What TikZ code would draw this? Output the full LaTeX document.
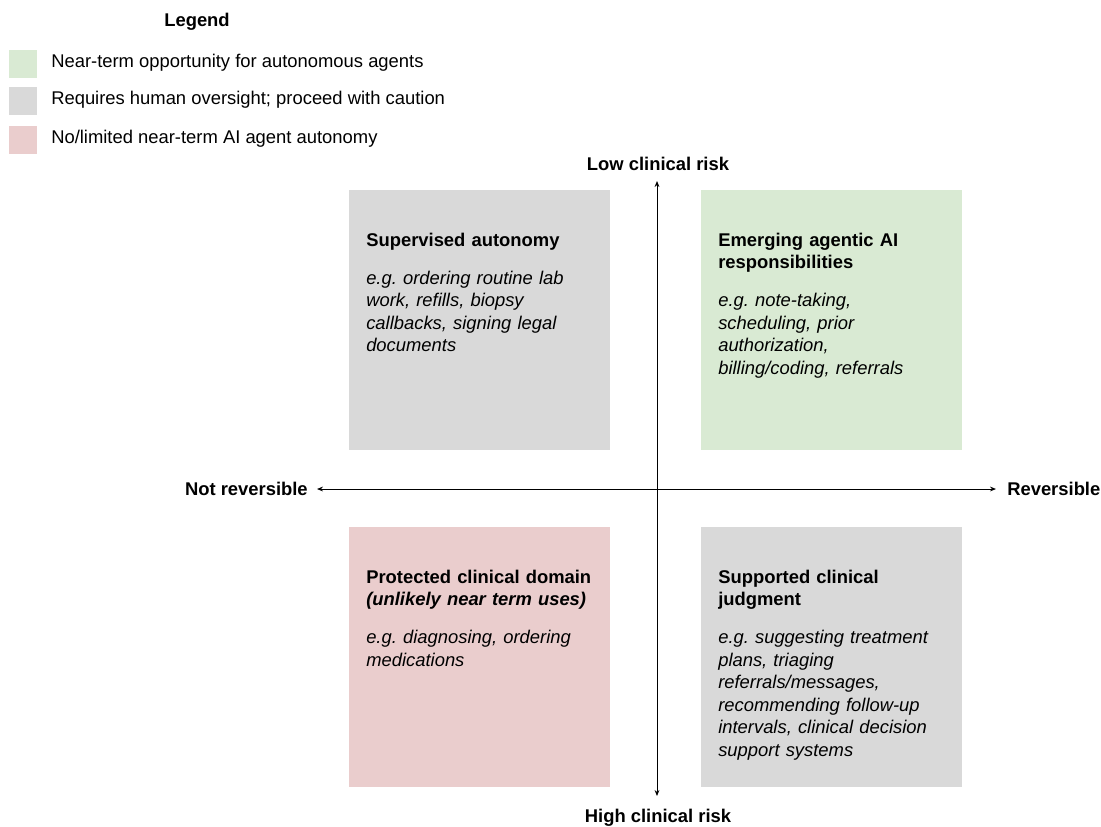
\documentclass[tikz,border=0pt]{standalone}
\usepackage{fontspec}
\setmainfont{Liberation Sans}
\usetikzlibrary{arrows.meta}
\definecolor{oppgreen}{HTML}{D9EAD3}
\definecolor{caregray}{HTML}{D9D9D9}
\definecolor{stopred}{HTML}{EACDCD}
\newcommand{\chartfont}{\fontsize{13.8}{16.9}\selectfont}
\frenchspacing

\begin{document}
\begin{tikzpicture}[x=0.75pt, y=-0.75pt,
    quad/.style={draw=none, anchor=north west, inner sep=0,
      minimum width=195.75pt, minimum height=195pt},
    quadtext/.style={anchor=north west, inner sep=0, align=left,
      text width=180pt, font=\chartfont},
    swatch/.style={draw=none, anchor=north west, inner sep=0, minimum size=21pt},
    label/.style={inner sep=0, font=\chartfont},
    axis/.style={line width=0.75pt, {Stealth[length=4.5pt,width=3.6pt]}-{Stealth[length=4.5pt,width=3.6pt]}}]
  \useasboundingbox (0,0) rectangle (1101,826);
  %%%%% LEGEND %%%%%
  \node[label, anchor=base, font=\chartfont\bfseries] (legend) at (197,26.6) {Legend};
  \node[swatch, fill=oppgreen] (lgreen) at (9,50) {};
  \node[swatch, fill=caregray] (lgray) at (9,87) {};
  \node[swatch, fill=stopred] (lred) at (9,126) {};
  \node[label, anchor=base west] (lgreentext) at (51,67.6) {Near-term opportunity for autonomous agents};
  \node[label, anchor=base west] (lgraytext) at (51,104.6) {Requires human oversight; proceed with caution};
  \node[label, anchor=base west] (lredtext) at (51,143.6) {No/limited near-term AI agent autonomy};

  %%%%% QUADRANTS %%%%%
  \node[quad, fill=caregray] (tl) at (349,190) {};
  \node[quad, fill=oppgreen] (tr) at (701,190) {};
  \node[quad, fill=stopred] (bl) at (349,527) {};
  \node[quad, fill=caregray] (br) at (701,527) {};

  \node[quadtext] (tltext) at ([shift={(17,42.5)}]tl.north west)
    {\textbf{Supervised autonomy}\\[11.6pt]
     \itshape e.g. ordering routine lab\\ work, refills, biopsy\\ callbacks, signing legal\\ documents};
  \node[quadtext] (trtext) at ([shift={(17,42.5)}]tr.north west)
    {\textbf{Emerging agentic AI}\\ \textbf{responsibilities}\\[11.6pt]
     \itshape e.g. note-taking,\\ scheduling, prior\\ authorization,\\ billing/coding, referrals};
  \node[quadtext] (bltext) at ([shift={(17,42.5)}]bl.north west)
    {\textbf{Protected clinical domain}\\ \textbf{\itshape(unlikely near term uses)}\\[11.6pt]
     \itshape e.g. diagnosing, ordering\\ medications};
  \node[quadtext] (brtext) at ([shift={(17,42.5)}]br.north west)
    {\textbf{Supported clinical}\\ \textbf{judgment}\\[11.6pt]
     \itshape e.g. suggesting treatment\\ plans, triaging\\ referrals/messages,\\ recommending follow-up\\ intervals, clinical decision\\ support systems};

  %%%%% AXES %%%%%
  \coordinate (axtop) at (657,181);
  \coordinate (axbot) at (657,796);
  \coordinate (axleft) at (317,489);
  \coordinate (axright) at (996,489);
  \draw[axis] (axbot) -- (axtop);
  \draw[axis] (axleft) -- (axright);

  \node[label, anchor=base, font=\chartfont\bfseries] (lowrisk) at (658,170) {Low clinical risk};
  \node[label, anchor=base, font=\chartfont\bfseries] (highrisk) at (658,822) {High clinical risk};
  \node[label, anchor=base east, font=\chartfont\bfseries] (notrev) at (308,495) {Not reversible};
  \node[label, anchor=base west, font=\chartfont\bfseries] (rev) at (1007,495) {Reversible};
\end{tikzpicture}
\end{document}
